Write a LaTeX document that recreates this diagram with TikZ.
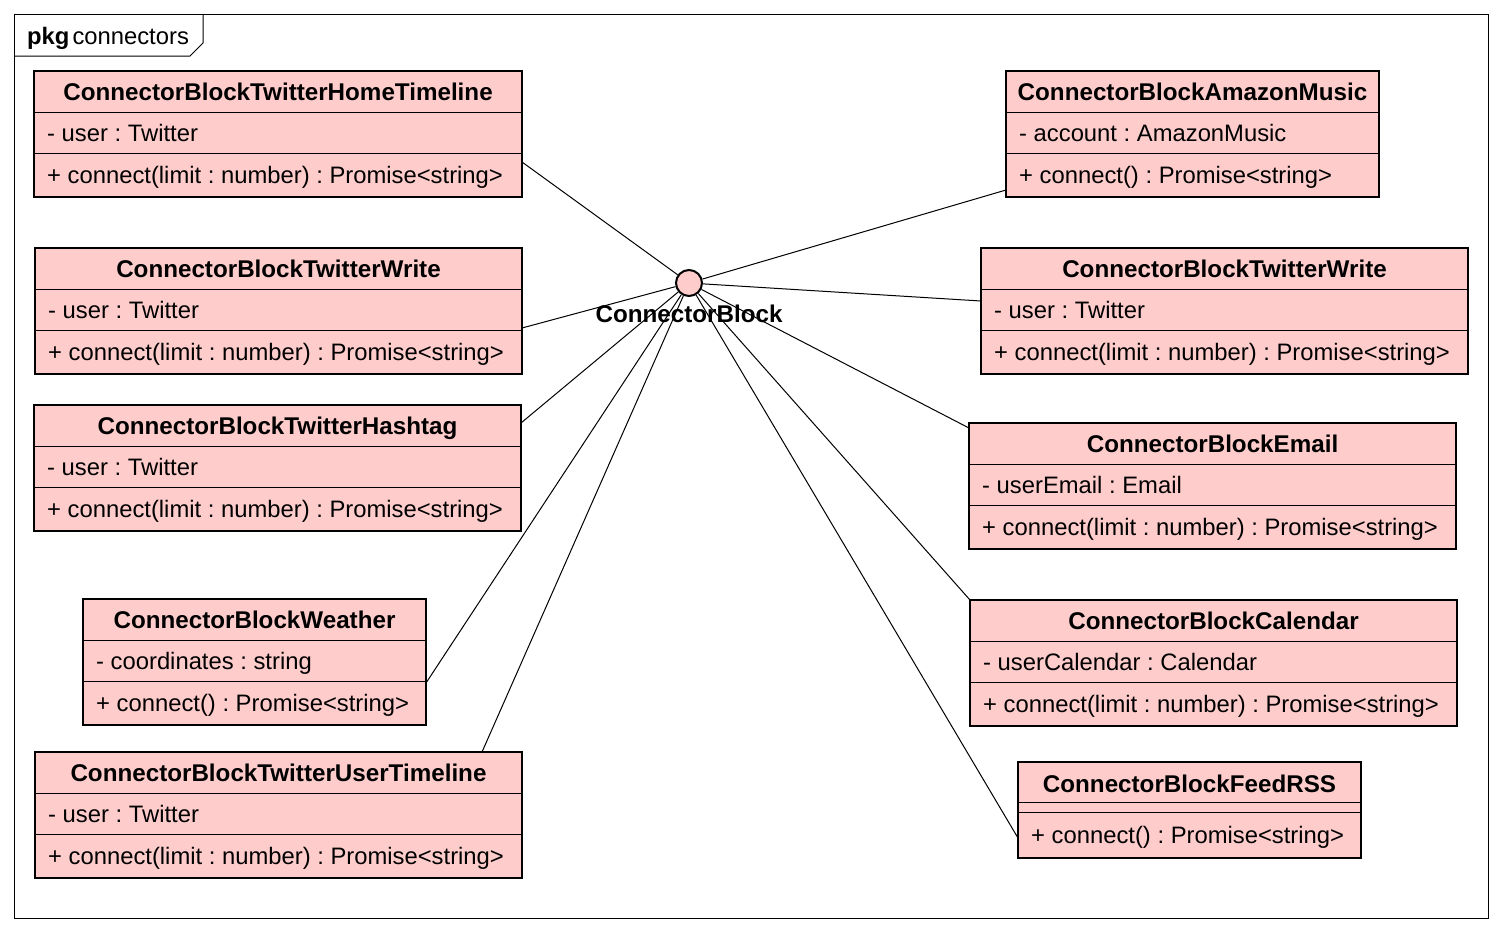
\documentclass[tikz,border=0pt]{standalone}
\usepackage{fontspec}
\setmainfont{Liberation Sans}
\frenchspacing
\definecolor{classfill}{HTML}{FFCCCC}

\begin{document}
\begin{tikzpicture}[x=1pt,y=-1pt,
  classbox/.style={draw,line width=2.6pt,fill=classfill,anchor=north west,inner sep=0pt,outer sep=0pt},
  member/.style={anchor=west,inner sep=0pt,text height=17pt,text depth=5pt,font=\fontsize{23.8}{28}\selectfont},
  title/.style={inner sep=0pt,text height=17pt,text depth=5pt,font=\fontsize{24.2}{28}\selectfont\bfseries},
  sepline/.style={line width=1pt},
  assoc/.style={draw,line width=1pt}]
  \useasboundingbox (0,0) rectangle (1501,932);
  \draw[line width=1pt] (14,14) rectangle (1488,918);
  \draw[line width=1pt] (14,56) -- (190,56) -- (203,43) -- (203,14);
  \node[member] (pkgname) at (27,38) {\textbf{pkg}\hspace{3pt}connectors};
  \foreach \nm/\xx/\yy/\ww/\ttl/\att/\mth in {
    home/34/71/488/{ConnectorBlockTwitterHomeTimeline}/{- user : Twitter}/{+ connect(limit : number) : Promise<string>},
    writel/35/248/487/{ConnectorBlockTwitterWrite}/{- user : Twitter}/{+ connect(limit : number) : Promise<string>},
    hashtag/34/405/487/{ConnectorBlockTwitterHashtag}/{- user : Twitter}/{+ connect(limit : number) : Promise<string>},
    weather/83/599/343/{ConnectorBlockWeather}/{- coordinates : string}/{+ connect() : Promise<string>},
    usertl/35/752/487/{ConnectorBlockTwitterUserTimeline}/{- user : Twitter}/{+ connect(limit : number) : Promise<string>},
    amazon/1006/71/373/{ConnectorBlockAmazonMusic}/{- account : AmazonMusic}/{+ connect() : Promise<string>},
    writer/981/248/487/{ConnectorBlockTwitterWrite}/{- user : Twitter}/{+ connect(limit : number) : Promise<string>},
    email/969/423/487/{ConnectorBlockEmail}/{- userEmail : Email}/{+ connect(limit : number) : Promise<string>},
    calendar/970/600/487/{ConnectorBlockCalendar}/{- userCalendar : Calendar}/{+ connect(limit : number) : Promise<string>}}
  {
    \node[classbox,minimum width=\ww pt,minimum height=126pt] (\nm) at (\xx,\yy) {};
    \draw[sepline] ([yshift=-41pt]\nm.north west) -- ([yshift=-41pt]\nm.north east)
      ([yshift=-82pt]\nm.north west) -- ([yshift=-82pt]\nm.north east);
    \node[title] at ([yshift=-23pt]\nm.north) {\ttl};
    \node[member] at ([xshift=13pt,yshift=-64pt]\nm.north west) {\att};
    \node[member] at ([xshift=13pt,yshift=-106pt]\nm.north west) {\mth};
  }
  \node[classbox,minimum width=343pt,minimum height=96pt] (feed) at (1018,762) {};
  \draw[sepline] ([yshift=-40pt]feed.north west) -- ([yshift=-40pt]feed.north east)
    ([yshift=-50pt]feed.north west) -- ([yshift=-50pt]feed.north east);
  \node[title] at ([yshift=-24pt]feed.north) {ConnectorBlockFeedRSS};
  \node[member] at ([xshift=13pt,yshift=-75pt]feed.north west) {+ connect() : Promise<string>};
  \node[circle,draw,line width=2pt,fill=classfill,minimum size=26pt,inner sep=0pt] (cb) at (689,283) {};
  \draw[assoc] (cb) -- ([yshift=-91pt]home.north east);
  \draw[assoc] (cb) -- ([yshift=-80pt]writel.north east);
  \draw[assoc] (cb) -- ([yshift=-18pt]hashtag.north east);
  \draw[assoc] (cb) -- ([yshift=-84pt]weather.north east);
  \draw[assoc] (cb) -- ([xshift=-40pt]usertl.north east);
  \draw[assoc] (cb) -- ([yshift=-119pt]amazon.north west);
  \draw[assoc] (cb) -- ([yshift=-53pt]writer.north west);
  \draw[assoc] (cb) -- ([yshift=-5pt]email.north west);
  \draw[assoc] (cb) -- (calendar.north west);
  \draw[assoc] (cb) -- ([yshift=-76pt]feed.north west);
  \node[title] (cblabel) at (689,316) {ConnectorBlock};
\end{tikzpicture}
\end{document}
